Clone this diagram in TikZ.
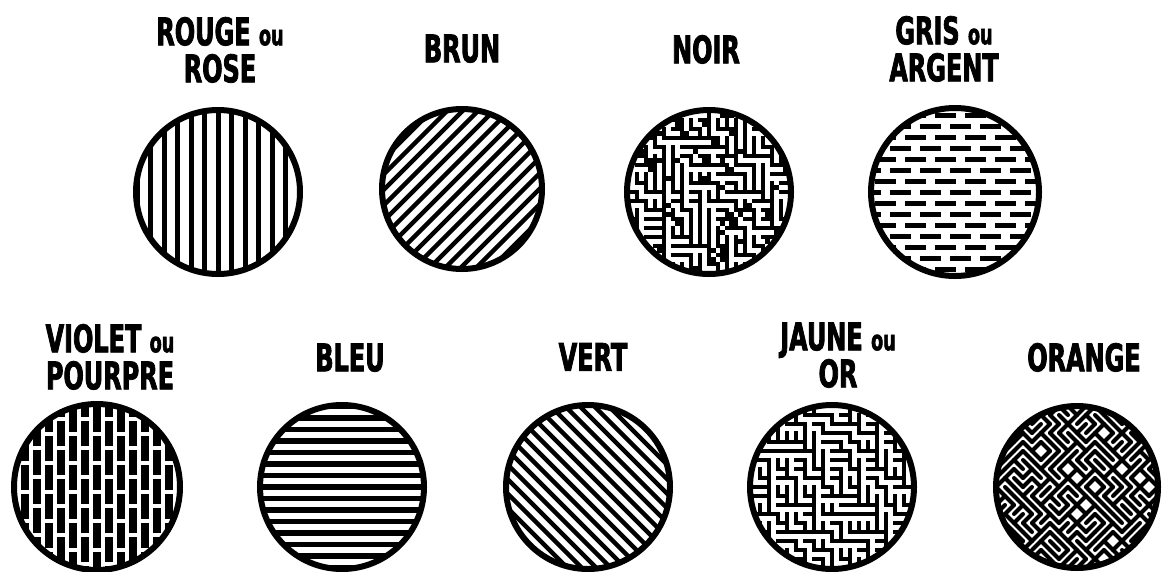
\documentclass[tikz,border=0pt]{standalone}
\usepackage{fontspec}
\newfontfamily\lab{DejaVu Sans}[FakeStretch=0.63, BoldFeatures={FakeBold=2}]
\newcommand\oulbl{{\fontsize{28}{28}\selectfont ou}}
\begin{document}
\begin{tikzpicture}[x=1pt,y=-1pt,
  lbl/.style={font=\lab\bfseries\fontsize{38}{37}\selectfont, align=center, inner sep=0pt, anchor=south},
  disc/.style={circle, minimum size=#1, inner sep=0pt, draw, line width=6pt},
  hatch/.style={line width=#1, line cap=butt}]
\useasboundingbox (0,0) rectangle (1164,571);
\pgfmathsetseed{11}
% centres
\coordinate (c1) at (218,192);
\coordinate (c2) at (462,189);
\coordinate (c3) at (709,192);
\coordinate (c4) at (955,192);
\coordinate (c5) at (97,487);
\coordinate (c6) at (342,487);
\coordinate (c7) at (588,487);
\coordinate (c8) at (832,487);
\coordinate (c9) at (1077,487);
% ROUGE : vertical lines
\begin{scope}[shift={(c1)}]
  \clip (0,0) circle[radius=82pt];
  \foreach \k in {-6,...,6} \draw[hatch=5pt] (\k*13.5,-90) -- (\k*13.5,90);
\end{scope}
% BRUN : / lines
\begin{scope}[shift={(c2)}]
  \clip (0,0) circle[radius=82pt];
  \foreach \k in {-10,...,10} \draw[hatch=4.5pt] (\k*15.5-110,110) -- (\k*15.5+110,-110);
\end{scope}
% NOIR : dense maze
\begin{scope}[shift={(c3)}]
  \clip (0,0) circle[radius=82pt];
  \foreach \i in {-10,...,9} \foreach \j in {-10,...,9} {
    \pgfmathsetmacro\r{rnd}
    \ifdim\r pt<0.45pt \draw[hatch=4.5pt,line cap=rect] (\i*9,\j*9) -- ++(9,0);
    \else \draw[hatch=4.5pt,line cap=rect] (\i*9,\j*9) -- ++(0,9); \fi
    \pgfmathsetmacro\s{rnd}
    \ifdim\s pt<0.15pt \fill (\i*9+2,\j*9+2) rectangle ++(5,5); \fi
  }
\end{scope}
% GRIS : brick dashes
\begin{scope}[shift={(c4)}]
  \clip (0,0) circle[radius=84pt];
  \foreach \k in {-8,...,8} {
    \pgfmathsetmacro\ph{mod(\k+8,2)*15}
    \draw[hatch=5pt, dash pattern=on 21pt off 9pt, dash phase=\ph pt] (-95,\k*11) -- (95,\k*11);
  }
\end{scope}
% VIOLET : vertical dashed columns
\begin{scope}[shift={(c5)}]
  \clip (0,0) circle[radius=83pt];
  \foreach \k in {-7,...,7} {
    \pgfmathsetmacro\ph{mod(\k+7,2)*14}
    \draw[hatch=8pt, dash pattern=on 25pt off 4pt, dash phase=\ph pt] (\k*12,-95) -- (\k*12,95);
  }
\end{scope}
% BLEU : horizontal lines
\begin{scope}[shift={(c6)}]
  \clip (0,0) circle[radius=82pt];
  \foreach \k in {-8,...,8} \draw[hatch=5.5pt] (-90,\k*11.5) -- (90,\k*11.5);
\end{scope}
% VERT : \ lines
\begin{scope}[shift={(c7)}]
  \clip (0,0) circle[radius=82pt];
  \foreach \k in {-11,...,11} \draw[hatch=4.5pt] (\k*14.5-110,-110) -- (\k*14.5+110,110);
\end{scope}
% JAUNE : orthogonal maze
\begin{scope}[shift={(c8)}]
  \clip (0,0) circle[radius=82pt];
  \foreach \i in {-10,...,9} \foreach \j in {-10,...,9} {
    \pgfmathsetmacro\r{rnd}
    \ifdim\r pt<0.5pt \draw[hatch=3.5pt,line cap=rect] (\i*9,\j*9) -- ++(9,0);
    \else \draw[hatch=3.5pt,line cap=rect] (\i*9,\j*9) -- ++(0,9); \fi
  }
\end{scope}
% ORANGE : diagonal maze
\begin{scope}[shift={(c9)}]
  \clip (0,0) circle[radius=81pt];
  \foreach \i in {-10,...,9} \foreach \j in {-10,...,9} {
    \pgfmathsetmacro\r{rnd}
    \ifdim\r pt<0.5pt \draw[hatch=4pt,line cap=round] (\i*9,\j*9) -- ++(9,9);
    \else \draw[hatch=4pt,line cap=round] (\i*9,\j*9+9) -- ++(9,-9); \fi
  }
\end{scope}
% outlines
\node[disc=164pt] (rouge) at (c1) {};
\node[disc=160pt] (brun) at (c2) {};
\node[disc=164pt] (noir) at (c3) {};
\node[disc=168pt] (gris) at (c4) {};
\node[disc=166pt] (violet) at (c5) {};
\node[disc=164pt] (bleu) at (c6) {};
\node[disc=164pt] (vert) at (c7) {};
\node[disc=164pt] (jaune) at (c8) {};
\node[disc=162pt] (orange) at (c9) {};
% labels
\node[lbl] (lrouge) at (220,83) {ROUGE \oulbl\\ROSE};
\node[lbl] (lbrun) at (462,63) {BRUN};
\node[lbl] (lnoir) at (706,64) {NOIR};
\node[lbl] (lgris) at (944,82) {GRIS \oulbl\\ARGENT};
\node[lbl] (lviolet) at (110,390) {VIOLET \oulbl\\POURPRE};
\node[lbl] (lbleu) at (350,372) {BLEU};
\node[lbl] (lvert) at (593,371) {VERT};
\node[lbl] (ljaune) at (838,388) {JAUNE \oulbl\\OR};
\node[lbl] (lorange) at (1084,372) {ORANGE};
\end{tikzpicture}
\end{document}
